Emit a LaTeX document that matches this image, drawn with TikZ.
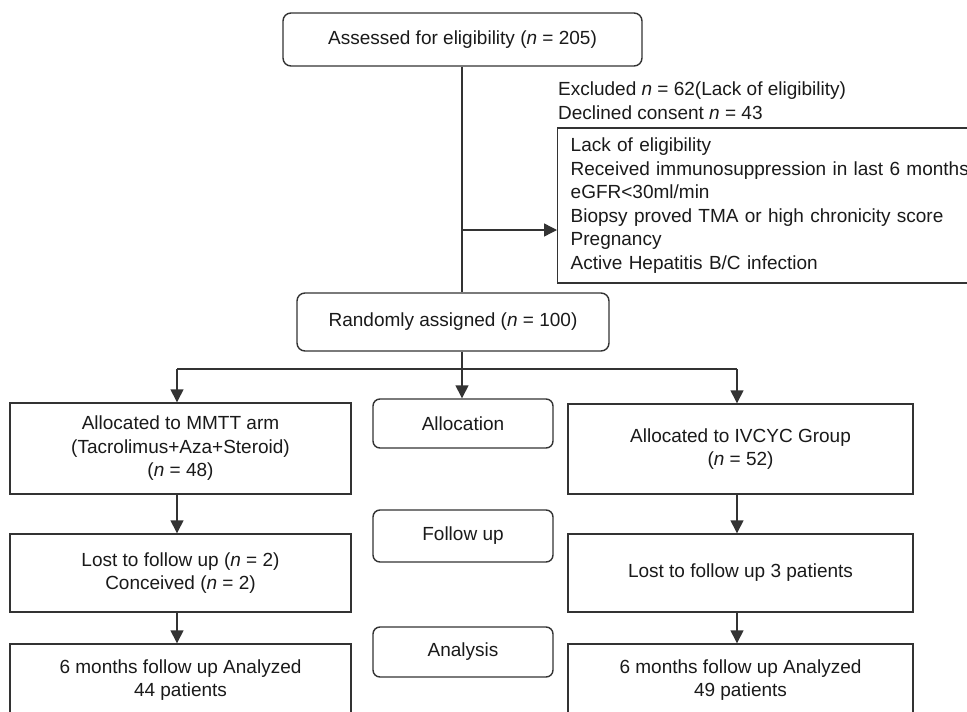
\documentclass[tikz,border=0pt]{standalone}
\usepackage{fontspec}
\setmainfont{Liberation Sans}
\usetikzlibrary{arrows.meta}
\definecolor{ln}{HTML}{333333}
\definecolor{tx}{HTML}{1A1A1A}
\begin{document}
\begin{tikzpicture}[x=1pt,y=-1pt,
  every node/.style={text=tx,font=\fontsize{19pt}{23.5pt}\selectfont},
  rbox/.style={draw=ln,line width=1.4pt,rounded corners=8pt,inner sep=0pt,align=center},
  sbox/.style={draw=ln,line width=1.4pt,inner sep=0pt,align=center},
  conn/.style={draw=ln,line width=1.4pt},
  arr/.style={conn,-{Triangle[length=13pt,width=13pt]}}]
\useasboundingbox (0,0) rectangle (967,712);
\clip (0,0) rectangle (967,712);
\fill[white] (0,0) rectangle (967,712);

\node[rbox,minimum width=359pt,minimum height=53pt] (top) at (462.5,39.5) {Assessed for eligibility (\textit{n} = 205)};
\node[anchor=west,align=left,inner sep=0pt] (exc) at (558,100.5) {Excluded \textit{n} = 62(Lack of eligibility)\\Declined consent \textit{n} = 43};
\node[sbox,anchor=west,align=left,text width=450pt,inner xsep=13pt,minimum height=155pt] (excl) at (557,205.5)
 {Lack of eligibility\\Received immunosuppression in last 6 months\\eGFR<30ml/min\\Biopsy proved TMA or high chronicity score\\Pregnancy\\Active Hepatitis B/C infection};
\node[rbox,minimum width=312pt,minimum height=58pt] (rand) at (453,322) {Randomly assigned (\textit{n} = 100)};

\node[sbox,minimum width=341pt,minimum height=91pt] (l1) at (180.5,448.5) {Allocated to MMTT arm\\(Tacrolimus+Aza+Steroid)\\(\textit{n} = 48)};
\node[sbox,minimum width=341pt,minimum height=78pt] (l2) at (180.5,573) {Lost to follow up (\textit{n} = 2)\\Conceived (\textit{n} = 2)};
\node[sbox,minimum width=341pt,minimum height=72pt] (l3) at (180.5,680) {6 months follow up Analyzed\\44 patients};

\node[rbox,rounded corners=7pt,minimum width=180pt,minimum height=49pt] (alloc) at (463,423.5) {Allocation};
\node[rbox,rounded corners=7pt,minimum width=180pt,minimum height=52pt] (fu) at (463,536) {Follow up};
\node[rbox,rounded corners=7pt,minimum width=180pt,minimum height=50pt] (an) at (463,652) {Analysis};

\node[sbox,minimum width=345pt,minimum height=90pt] (r1) at (740.5,449) {Allocated to IVCYC Group\\(\textit{n} = 52)};
\node[sbox,minimum width=345pt,minimum height=78pt] (r2) at (740.5,573) {Lost to follow up 3 patients};
\node[sbox,minimum width=345pt,minimum height=72pt] (r3) at (740.5,680) {6 months follow up Analyzed\\49 patients};

\coordinate (main) at (462,0);
\coordinate (branch) at (462,230);
\coordinate (split) at (462,369);
\coordinate (lsplit) at (177,369);
\coordinate (rsplit) at (737,369);

\draw[conn] (top.south -| main) -- (rand.north -| main);
\draw[arr] (branch) -- (branch -| excl.west);
\draw[conn] (rand.south -| split) -- (split);
\draw[conn] (lsplit) -- (rsplit);
\draw[arr] (lsplit) -- (lsplit |- l1.north);
\draw[arr] (split) -- (split |- alloc.north);
\draw[arr] (rsplit) -- (rsplit |- r1.north);
\draw[arr] (lsplit |- l1.south) -- (lsplit |- l2.north);
\draw[arr] (lsplit |- l2.south) -- (lsplit |- l3.north);
\draw[arr] (rsplit |- r1.south) -- (rsplit |- r2.north);
\draw[arr] (rsplit |- r2.south) -- (rsplit |- r3.north);
\end{tikzpicture}
\end{document}
